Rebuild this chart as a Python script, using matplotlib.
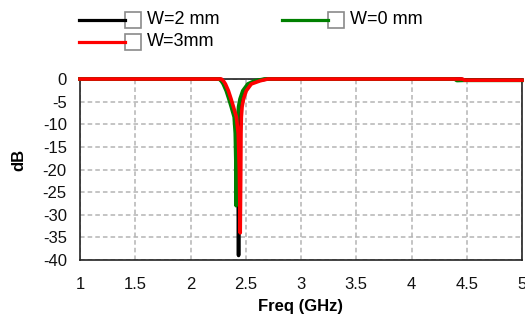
import matplotlib
matplotlib.use("Agg")
import matplotlib.pyplot as plt
from matplotlib.lines import Line2D
from matplotlib.patches import Rectangle

plt.rcParams['font.family'] = ['Liberation Sans', 'DejaVu Sans']

# ---- data ----
series_names = ["W=2 mm", "W=0 mm", "W=3mm"]
series_colors = ["#000000", "#008000", "#ff0000"]

freq_w2 = [1.0, 2.25, 2.267, 2.29, 2.304, 2.331, 2.355, 2.376, 2.403, 2.420, 2.430, 2.435,
           2.440, 2.442, 2.447, 2.455, 2.468, 2.493, 2.538, 2.60, 2.69, 4.45, 4.47, 5.0]
db_w2 = [0, 0, 0, -0.5, -1.1, -2.6, -4.4, -6.1, -8.4, -12, -20, -39,
         -20, -12, -8.4, -6.1, -4.4, -2.6, -1.1, -0.4, 0, 0, -0.25, -0.25]

freq_w0 = [1.0, 2.24, 2.259, 2.28, 2.296, 2.323, 2.347, 2.368, 2.395, 2.405, 2.410, 2.413,
           2.416, 2.42, 2.427, 2.435, 2.448, 2.473, 2.518, 2.58, 2.67, 4.39, 4.41, 4.47, 5.0]
db_w0 = [0, 0, 0, -0.5, -1.1, -2.6, -4.4, -6.1, -8.4, -12, -18, -28,
         -18, -12, -8.4, -6.1, -4.4, -2.6, -1.1, -0.4, 0, 0, -0.35, -0.3, -0.3]

freq_w3 = [1.0, 2.26, 2.279, 2.30, 2.316, 2.343, 2.367, 2.388, 2.415, 2.432, 2.442, 2.450,
           2.455, 2.457, 2.460, 2.467, 2.480, 2.505, 2.550, 2.63, 2.70, 4.46, 4.48, 5.0]
db_w3 = [0, 0, 0, -0.5, -1.1, -2.6, -4.4, -6.1, -8.4, -12, -20, -34,
         -20, -12, -8.4, -6.1, -4.4, -2.6, -1.1, -0.4, 0, 0, -0.25, -0.25]

x_ticks = [1, 1.5, 2, 2.5, 3, 3.5, 4, 4.5, 5]
x_ticklabels = ["1", "1.5", "2", "2.5", "3", "3.5", "4", "4.5", "5"]
y_ticks = [0, -5, -10, -15, -20, -25, -30, -35, -40]
y_ticklabels = ["0", "-5", "-10", "-15", "-20", "-25", "-30", "-35", "-40"]

# ---- figure ----
W, H = 525, 318
fig = plt.figure(figsize=(W / 100, H / 100), dpi=100)
ax = fig.add_axes([80 / W, 1 - 260 / H, (522 - 80) / W, (260 - 79) / H])

for fx, dy, c in [(freq_w2, db_w2, series_colors[0]),
                  (freq_w0, db_w0, series_colors[1]),
                  (freq_w3, db_w3, series_colors[2])]:
    ax.plot(fx, dy, color=c, lw=2.6, zorder=3, clip_on=False)

ax.set_xlim(1, 5)
ax.set_ylim(-40, 0)
ax.set_xticks(x_ticks)
ax.set_xticklabels(x_ticklabels)
ax.set_yticks(y_ticks)
ax.set_yticklabels(y_ticklabels)
ax.tick_params(axis='both', length=0, labelsize=12, colors='#111111')
ax.tick_params(axis='x', pad=12.5)
ax.tick_params(axis='y', pad=9.5)
ax.grid(True, color='#b4b4b4', linestyle=(0, (3, 2)), linewidth=1.1)
ax.set_axisbelow(True)
for s in ax.spines.values():
    s.set_color('#222222')
    s.set_linewidth(1.2)

fig.text(19 / W, 1 - 160 / H, "dB", rotation=90, ha='center', va='center',
         fontsize=12, fontweight='bold')
fig.text(300 / W, 1 - 306 / H, "Freq (GHz)", ha='center', va='center',
         fontsize=12, fontweight='bold')

# ---- legend (manual, with checkbox squares) ----
legend_pos = [(79, 20), (282, 20), (79, 42)]
for (x0, yc), name, c in zip(legend_pos, series_names, series_colors):
    fig.add_artist(Line2D([x0 / W, (x0 + 46) / W], [1 - yc / H, 1 - yc / H],
                          color=c, lw=2.3, transform=fig.transFigure))
    fig.add_artist(Rectangle(((x0 + 46) / W, 1 - (yc + 8) / H), 16 / W, 16 / H,
                             transform=fig.transFigure, facecolor='white',
                             edgecolor='#8a8a8a', lw=1.2))
    fig.text((x0 + 68) / W, 1 - yc / H, name, ha='left', va='center', fontsize=13)

fig.savefig("out.png", dpi=100)
